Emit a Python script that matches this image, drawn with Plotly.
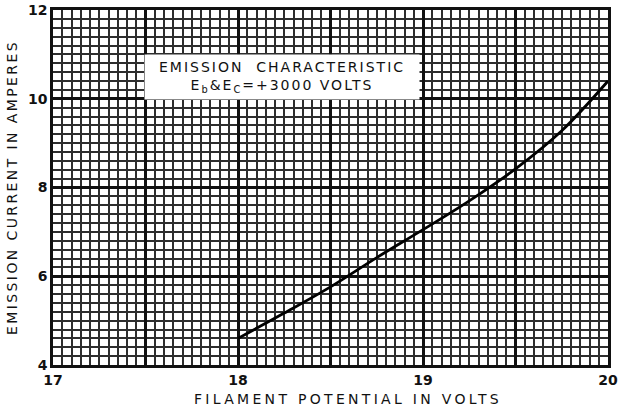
import plotly.graph_objects as go

# Data
filament_volts = [18.0, 18.25, 18.5, 18.75, 19.0, 19.25, 19.5, 19.75, 20.0]
emission_amps = [4.6, 5.17, 5.76, 6.42, 7.05, 7.7, 8.42, 9.28, 10.4]

x_tick_vals = [17, 17.5, 18, 18.5, 19, 19.5, 20]
x_tick_text = ["17", "", "18", "", "19", "", "20"]
y_tick_vals = [4, 6, 8, 10, 12]
y_tick_text = ["4", "6", "8", "10", "12"]

FONT = "DejaVu Sans"


def spaced(txt, px):
    return '<span style="letter-spacing:%spx">%s</span>' % (px, txt)


fig = go.Figure()
fig.add_trace(go.Scatter(
    x=filament_volts, y=emission_amps, mode="lines",
    line=dict(color="black", width=2.8, shape="spline", smoothing=1.0),
    showlegend=False, hoverinfo="skip",
))

fig.update_layout(
    width=618, height=412,
    margin=dict(l=53, r=10, t=10, b=47),
    paper_bgcolor="white", plot_bgcolor="white",
    font=dict(family=FONT, color="#111"),
    xaxis=dict(
        range=[17, 20], tickmode="array", tickvals=x_tick_vals, ticktext=x_tick_text,
        showgrid=True, gridcolor="#111", gridwidth=2.5,
        minor=dict(dtick=0.05, showgrid=True, gridcolor="#2e2e2e", gridwidth=1.5),
        showline=True, linecolor="#111", linewidth=2.5, mirror=True,
        ticks="", zeroline=False, automargin=False,
        tickfont=dict(size=14, family=FONT, weight="bold"),
        layer="below traces",
    ),
    yaxis=dict(
        range=[4, 12], tickmode="array", tickvals=y_tick_vals, ticktext=y_tick_text,
        showgrid=True, gridcolor="#111", gridwidth=2.5,
        minor=dict(dtick=0.2, showgrid=True, gridcolor="#2e2e2e", gridwidth=1.5),
        showline=True, linecolor="#111", linewidth=2.5, mirror=True,
        ticks="", zeroline=False, automargin=False,
        tickfont=dict(size=14, family=FONT, weight="bold"),
        title=dict(text=spaced("EMISSION CURRENT IN AMPERES", 2.4),
                   font=dict(size=14, family=FONT), standoff=8),
        layer="below traces",
    ),
)

# x-axis title (slightly right of centre, as in the original)
fig.add_annotation(
    x=0.532, y=0, xref="paper", yref="paper", yshift=-24, yanchor="top",
    text=spaced("FILAMENT POTENTIAL IN VOLTS", 3.3), showarrow=False,
    font=dict(size=14, family=FONT, color="#111"),
)

fig.add_annotation(
    x=18.24, y=10.5, xref="x", yref="y",
    text=spaced("EMISSION  CHARACTERISTIC", 2) + "<br>"
    + spaced("E<sub>b</sub>&E<sub>C</sub>=+3000 VOLTS", 2),
    showarrow=False, bgcolor="white", width=272, height=42,
    font=dict(size=14, family=FONT, color="#111"), align="center",
)

fig.write_html("out.html", config={"displayModeBar": False},
               post_script="document.body.style.margin='0';")
